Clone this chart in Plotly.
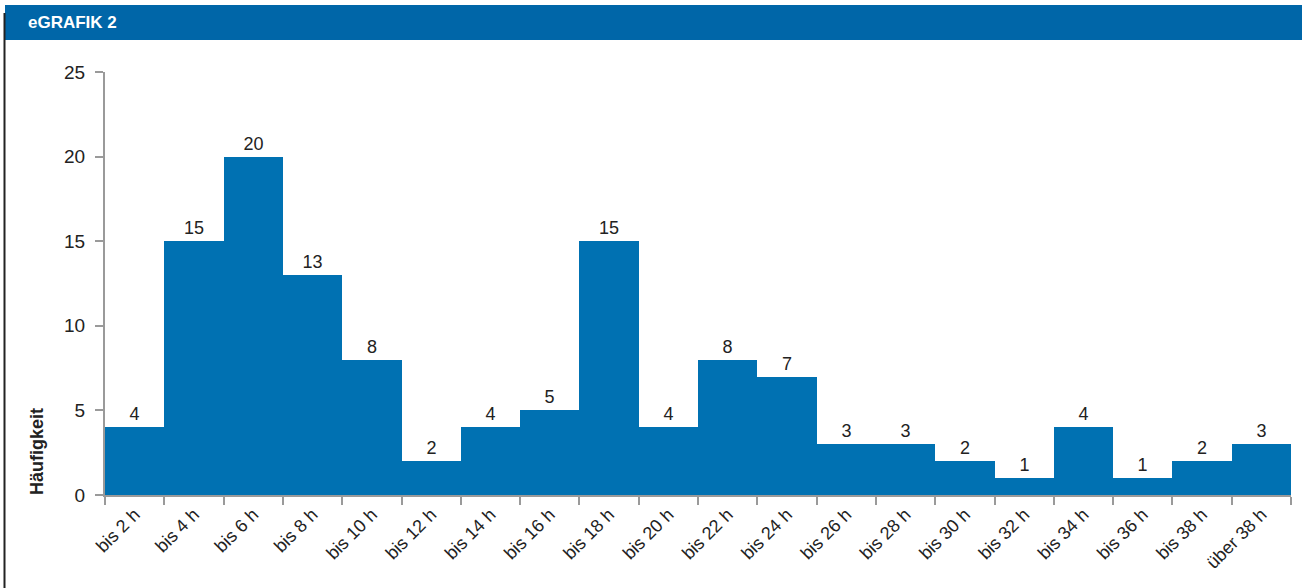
import plotly.graph_objects as go

categories = ["bis 2 h", "bis 4 h", "bis 6 h", "bis 8 h", "bis 10 h", "bis 12 h", "bis 14 h",
              "bis 16 h", "bis 18 h", "bis 20 h", "bis 22 h", "bis 24 h", "bis 26 h", "bis 28 h",
              "bis 30 h", "bis 32 h", "bis 34 h", "bis 36 h", "bis 38 h", "über 38 h"]
values = [4, 15, 20, 13, 8, 2, 4, 5, 15, 4, 8, 7, 3, 3, 2, 1, 4, 1, 2, 3]
y_ticks = [0, 5, 10, 15, 20, 25]

W, H = 1302, 588
L, R, T, B = 105, 1291, 72, 495
pw, ph = R - L, B - T

def px(x):
    return (x - L) / pw

def py(y):
    return (B - y) / ph

FONT = "Liberation Sans Narrow, Arial Narrow, Liberation Sans, Arial, sans-serif"
BAR = "#0071b2"
HEAD = "#0066a8"
AX = "#9a9a9a"

fig = go.Figure(go.Bar(
    x=categories, y=values, width=1.0,
    marker=dict(color=BAR, line=dict(width=0)),
    text=[str(v) for v in values], textposition="outside",
    textfont=dict(family=FONT, size=18, color="#222222"),
    cliponaxis=False, hoverinfo="skip",
))

fig.update_layout(
    width=W, height=H, autosize=False,
    margin=dict(l=L, r=W - R, t=T, b=H - B, pad=0),
    paper_bgcolor="white", plot_bgcolor="white",
    bargap=0, showlegend=False,
    font=dict(family=FONT, color="#222222"),
    xaxis=dict(
        type="category", range=[-0.5, len(categories) - 0.5],
        tickson="boundaries", ticks="outside", ticklen=8, tickwidth=2, tickcolor=AX,
        showline=True, linecolor=AX, linewidth=2, showgrid=False, zeroline=False,
        tickangle=-45, tickfont=dict(family=FONT, size=18, color="#222222"),
        fixedrange=True,
    ),
    yaxis=dict(
        range=[0, 25], tickvals=y_ticks, ticks="outside", ticklen=8, tickwidth=2, tickcolor=AX,
        showline=True, linecolor=AX, linewidth=2, showgrid=False, zeroline=False,
        tickfont=dict(family=FONT, size=19, color="#222222"), ticklabelstandoff=6,
        fixedrange=True,
    ),
    shapes=[
        dict(type="rect", xref="paper", yref="paper",
             x0=px(5), x1=px(1302), y0=py(40), y1=py(5),
             fillcolor=HEAD, line=dict(width=0), layer="above"),
        dict(type="line", xref="paper", yref="paper",
             x0=px(4.5), x1=px(4.5), y0=py(13), y1=py(588),
             line=dict(color="#222222", width=2)),
    ],
    annotations=[
        dict(text="<b>eGRAFIK 2</b>", xref="paper", yref="paper",
             x=px(26), y=py(22.5), xanchor="left", yanchor="middle", showarrow=False,
             font=dict(family="Liberation Sans, Arial, sans-serif", size=17, color="white")),
        dict(text="<b>Häufigkeit</b>", xref="paper", yref="paper",
             x=px(37), y=py(452), xanchor="center", yanchor="middle", showarrow=False,
             textangle=-90,
             font=dict(family=FONT, size=18, color="#222222")),
    ],
)

fig.write_html("out.html")
